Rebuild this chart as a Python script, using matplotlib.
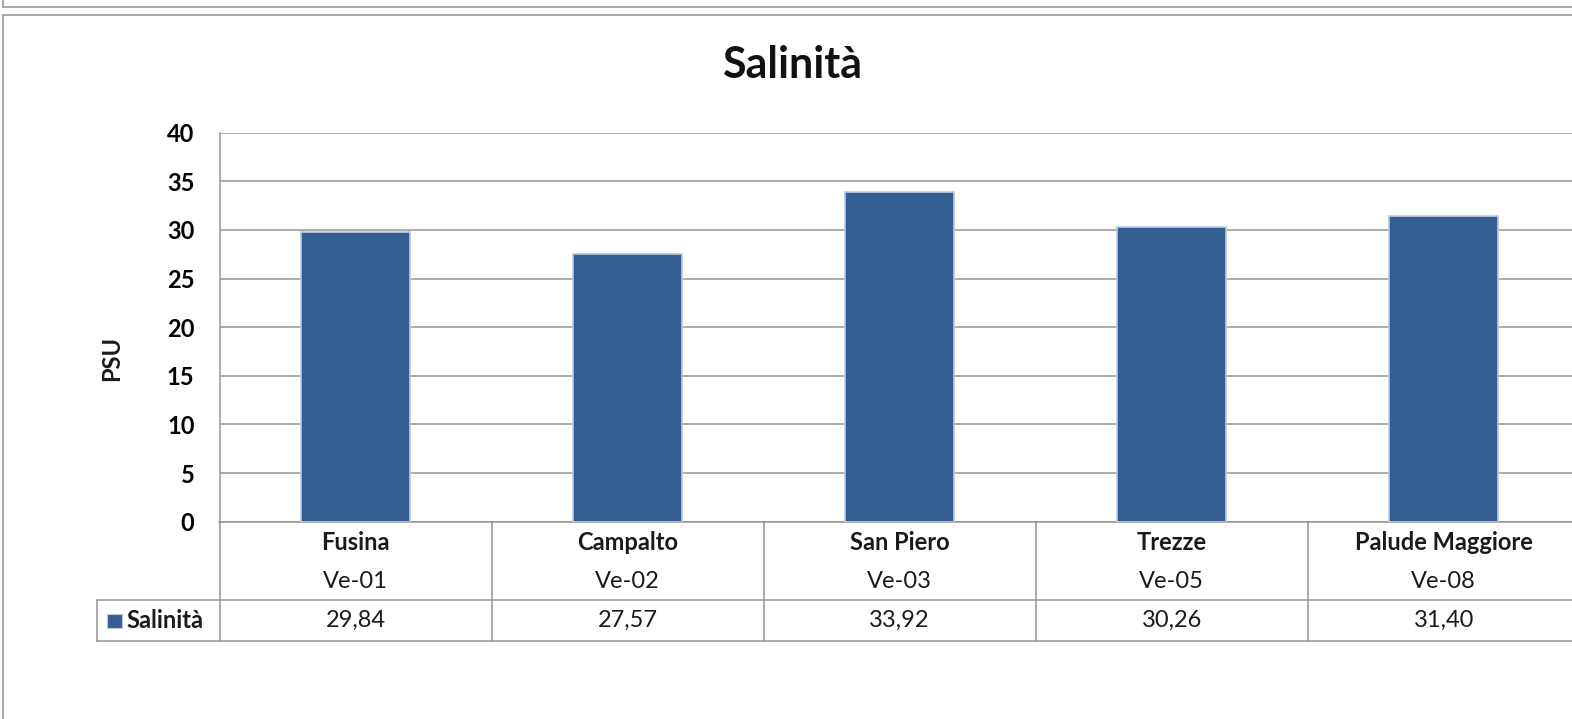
import matplotlib
matplotlib.use("Agg")
import matplotlib.pyplot as plt
import matplotlib.transforms as mtrans
from matplotlib.patches import Rectangle
from matplotlib.lines import Line2D

# data
stations = ["Fusina", "Campalto", "San Piero", "Trezze", "Palude Maggiore"]
codes = ["Ve-01", "Ve-02", "Ve-03", "Ve-05", "Ve-08"]
salinita = [29.84, 27.57, 33.92, 30.26, 31.40]
yticks = [0, 5, 10, 15, 20, 25, 30, 35, 40]

W, H = 1572, 719
BAR = "#365F91"
GRID = "#959595"
FS = 17
plt.rcParams['font.family'] = ['Lato', 'DejaVu Sans']


def fx(x):
    return x / W


def fy(y):
    return 1 - y / H


fig = plt.figure(figsize=(W / 100, H / 100), dpi=100)

# plot area (extends past the right edge like the original screenshot)
left, right, top, base = 219.5, 1579.75, 132.7, 521.7
ax = fig.add_axes([fx(left), fy(base), (right - left) / W, (base - top) / H])
ax.set_xlim(-0.5, len(stations) - 0.5)
ax.set_ylim(0, 40)
ax.set_yticks(yticks)
ax.set_yticklabels([str(t) for t in yticks], fontsize=FS, fontweight="bold")
ax.tick_params(axis="y", length=0, pad=18)
ax.set_xticks([])
for s in ["top", "right", "left"]:
    ax.spines[s].set_visible(False)
ax.spines["bottom"].set_color(GRID)
ax.spines["bottom"].set_linewidth(1.1)
ax.yaxis.grid(True, color=GRID, linewidth=1.1)
ax.set_axisbelow(True)

ax.bar(range(len(stations)), salinita, width=0.4, color=BAR,
       edgecolor="#b9c9de", linewidth=1.2, zorder=3)

# data table under the axis
tr = mtrans.blended_transform_factory(ax.transData, fig.transFigure)
row1, row2 = 600, 641
for k in range(1, len(stations) + 1):
    fig.add_artist(Line2D([k - 0.5, k - 0.5], [fy(base), fy(row2)], transform=tr,
                          color=GRID, linewidth=1.1))
fig.add_artist(Line2D([fx(left), fx(left)], [fy(top), fy(row2)], color=GRID, linewidth=1.1))
for yy in [row1, row2]:
    fig.add_artist(Line2D([fx(96.7), 1.01], [fy(yy), fy(yy)], color=GRID, linewidth=1.1))
fig.add_artist(Line2D([fx(96.7), fx(96.7)], [fy(row1), fy(row2)], color=GRID, linewidth=1.1))

for i in range(len(stations)):
    ax.text(i, fy(542), stations[i], transform=tr, ha="center", va="center",
            fontsize=FS, fontweight="bold", color="#1a1a1a")
    ax.text(i, fy(581.5), codes[i], transform=tr, ha="center", va="center",
            fontsize=FS, color="#1a1a1a")
    ax.text(i, fy(620), f"{salinita[i]:.2f}".replace(".", ","), transform=tr,
            ha="center", va="center", fontsize=FS, color="#1a1a1a")

# legend key in the table
fig.add_artist(Rectangle((fx(107), fy(628)), 15 / W, 14 / H, transform=fig.transFigure,
                         facecolor=BAR, edgecolor="#b9c9de", linewidth=0.8))
fig.text(fx(126), fy(620), "Salinità", ha="left", va="center", fontsize=FS,
         fontweight="bold", color="#1a1a1a")

fig.text(fx(112), fy(358), "PSU", rotation=90, ha="center", va="center",
         fontsize=FS, fontweight="bold", color="#1a1a1a")
fig.text(fx(792), fy(78), "Salinità", ha="center", va="baseline",
         fontsize=31, fontweight="bold", color="#111111")

# chart frame like the screenshot
fig.add_artist(Line2D([fx(3.3), 1.01], [fy(15), fy(15)], color="#a0a0a0", linewidth=1.3))
fig.add_artist(Line2D([fx(3.3), fx(3.3)], [fy(15), -0.01], color="#a0a0a0", linewidth=1.3))
fig.add_artist(Line2D([fx(3.3), 1.01], [fy(6.7), fy(6.7)], color="#a0a0a0", linewidth=1.3))
fig.add_artist(Line2D([fx(3.3), fx(3.3)], [fy(6.7), 1.01], color="#a0a0a0", linewidth=1.3))

fig.savefig("out.png", dpi=100)
